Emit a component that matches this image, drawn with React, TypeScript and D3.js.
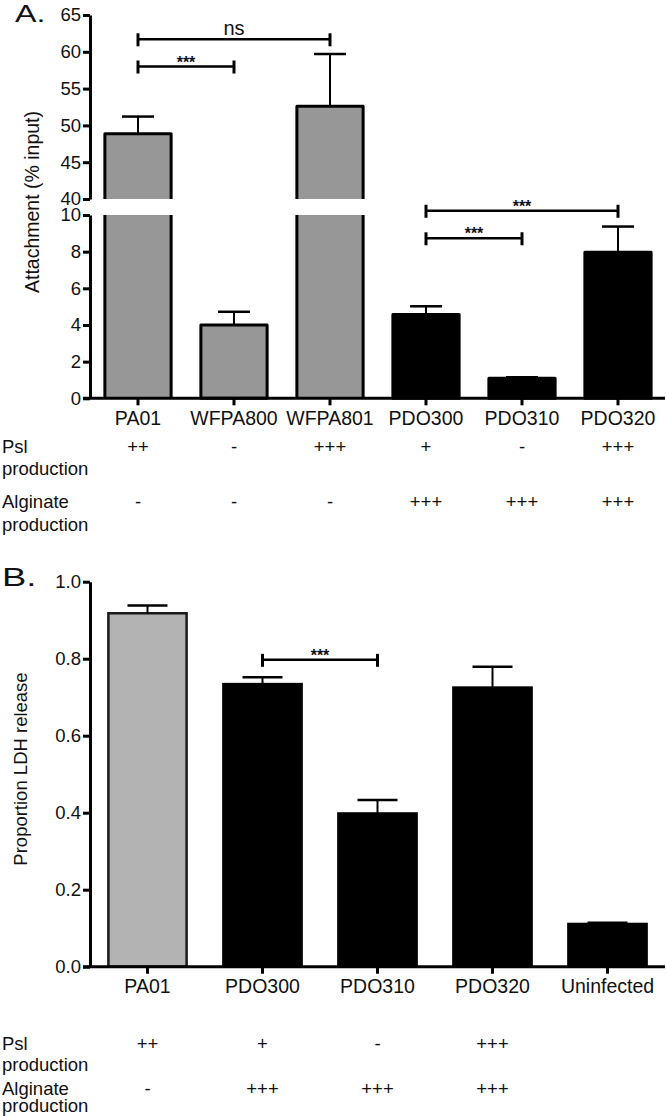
import React, { useEffect, useRef } from "react";
import * as d3 from "d3";

// ---------- Panel A data ----------
const topCategories = ["PA01", "WFPA800", "WFPA801", "PDO300", "PDO310", "PDO320"];
const topMeans = [48.85, 4.0, 52.6, 4.57, 1.1, 7.97];
const topErrors = [2.35, 0.72, 7.1, 0.45, 0.05, 1.4];
const topGroups = ["wt", "wt", "wt", "muc", "muc", "muc"];
const topPsl = ["++", "-", "+++", "+", "-", "+++"];
const topAlginate = ["-", "-", "-", "+++", "+++", "+++"];
const topLowTicks = [0, 2, 4, 6, 8, 10];
const topHighTicks = [40, 45, 50, 55, 60, 65];
const topBrackets = [
  { from: "PA01", to: "WFPA800", value: 58.0, label: "***" },
  { from: "PA01", to: "WFPA801", value: 61.7, label: "ns" },
  { from: "PDO300", to: "PDO310", value: 8.73, label: "***" },
  { from: "PDO300", to: "PDO320", value: 10.23, label: "***" },
];

// ---------- Panel B data ----------
const bottomCategories = ["PA01", "PDO300", "PDO310", "PDO320", "Uninfected"];
const bottomMeans = [0.918, 0.734, 0.398, 0.725, 0.111];
const bottomErrors = [0.02, 0.018, 0.035, 0.054, 0.003];
const bottomGroups = ["wt", "muc", "muc", "muc", "muc"];
const bottomPsl = ["++", "+", "-", "+++", ""];
const bottomAlginate = ["-", "+++", "+++", "+++", ""];
const bottomTicks = [0, 0.2, 0.4, 0.6, 0.8, 1.0];
const bottomBrackets = [{ from: "PDO300", to: "PDO310", value: 0.797, label: "***" }];

const FONT = "'Liberation Sans', Arial, Helvetica, sans-serif";

export default function App() {
  const topHighRef = useRef<SVGGElement>(null);
  const topLowRef = useRef<SVGGElement>(null);
  const botYRef = useRef<SVGGElement>(null);

  // scales
  const yLow = d3.scaleLinear().domain([0, 10]).range([398.3, 215]);
  const yHigh = d3.scaleLinear().domain([40, 65]).range([199, 15]);
  const yTop = (v: number) => (v >= 40 ? yHigh(v) : yLow(v));
  const xTop = d3
    .scaleBand<string>()
    .domain(topCategories)
    .range([90, 666])
    .paddingInner(0.31)
    .paddingOuter(0.155);

  const yBot = d3.scaleLinear().domain([0, 1]).range([966.7, 581.7]);
  const xBot = d3
    .scaleBand<string>()
    .domain(bottomCategories)
    .range([90, 665])
    .paddingInner(0.32)
    .paddingOuter(0.16);

  useEffect(() => {
    const style = (sel: any) => {
      sel.select(".domain").attr("stroke", "#000").attr("stroke-width", 3);
      sel.selectAll(".tick line").attr("stroke", "#000").attr("stroke-width", 3);
      sel
        .selectAll(".tick text")
        .attr("fill", "#111")
        .style("font-family", FONT)
        .style("font-size", "18.5px");
    };
    if (topHighRef.current) {
      const g = d3.select(topHighRef.current);
      g.call(d3.axisLeft(yHigh).tickValues(topHighTicks).tickSize(7).tickSizeOuter(0).tickPadding(2));
      style(g);
    }
    if (topLowRef.current) {
      const g = d3.select(topLowRef.current);
      g.call(d3.axisLeft(yLow).tickValues(topLowTicks).tickSize(7).tickSizeOuter(0).tickPadding(2));
      style(g);
    }
    if (botYRef.current) {
      const g = d3.select(botYRef.current);
      g.call(
        d3
          .axisLeft(yBot)
          .tickValues(bottomTicks)
          .tickFormat(d3.format(".1f") as any)
          .tickSize(7)
          .tickSizeOuter(0)
          .tickPadding(2)
      );
      style(g);
    }
  }, []);

  const bwT = xTop.bandwidth();
  const bwB = xBot.bandwidth();
  const cT = (c: string) => (xTop(c) as number) + bwT / 2;
  const cB = (c: string) => (xBot(c) as number) + bwB / 2;

  // ---- Top bars ----
  const topBars = topCategories.map((c, i) => {
    const x0 = xTop(c) as number;
    const x1 = x0 + bwT;
    const v = topMeans[i];
    const fill = topGroups[i] === "wt" ? "#979797" : "#000";
    if (v > 10) {
      const yl0 = yLow(0);
      const yl1 = yLow(10);
      const yh0 = yHigh(40);
      const yh1 = yHigh(v);
      return (
        <g key={c}>
          <rect x={x0} y={yl1} width={bwT} height={yl0 - yl1} fill={fill} />
          <path d={`M${x0},${yl0}V${yl1}M${x1},${yl1}V${yl0}`} stroke="#000" strokeWidth={3} fill="none" />
          <rect x={x0} y={yh1} width={bwT} height={yh0 - yh1} fill={fill} />
          <path d={`M${x0},${yh0}V${yh1}H${x1}V${yh0}`} stroke="#000" strokeWidth={3} fill="none" strokeLinejoin="round" />
        </g>
      );
    }
    const y = yLow(v);
    return (
      <rect
        key={c}
        x={x0}
        y={y}
        width={bwT}
        height={yLow(0) - y}
        fill={fill}
        stroke="#000"
        strokeWidth={3}
        strokeLinejoin="round"
      />
    );
  });

  const topErr = topCategories.map((c, i) => {
    const xc = cT(c);
    const ya = yTop(topMeans[i]);
    const yb = yTop(topMeans[i] + topErrors[i]);
    return (
      <g key={c} stroke="#000">
        <line x1={xc} x2={xc} y1={ya} y2={yb} strokeWidth={2} />
        <line x1={xc - 16} x2={xc + 16} y1={yb} y2={yb} strokeWidth={2.5} />
      </g>
    );
  });

  const bracket = (
    key: string,
    xa: number,
    xb: number,
    y: number,
    label: string
  ) => (
    <g key={key}>
      <line x1={xa} x2={xb} y1={y} y2={y} stroke="#000" strokeWidth={2.5} />
      <line x1={xa} x2={xa} y1={y - 6} y2={y + 7} stroke="#000" strokeWidth={3} />
      <line x1={xb} x2={xb} y1={y - 6} y2={y + 7} stroke="#000" strokeWidth={3} />
      {label === "ns" ? (
        <text x={(xa + xb) / 2} y={y - 4} textAnchor="middle" fontSize={20} fontFamily={FONT} fill="#111">
          ns
        </text>
      ) : (
        <text x={(xa + xb) / 2} y={y + 1} textAnchor="middle" fontSize={16} fontWeight="bold" fontFamily={FONT} fill="#111">
          {label}
        </text>
      )}
    </g>
  );

  // ---- Bottom bars ----
  const botBars = bottomCategories.map((c, i) => {
    const x0 = xBot(c) as number;
    const y = yBot(bottomMeans[i]);
    const wt = bottomGroups[i] === "wt";
    return (
      <rect
        key={c}
        x={x0}
        y={y}
        width={bwB}
        height={yBot(0) - y}
        fill={wt ? "#b3b3b3" : "#000"}
        stroke={wt ? "#1a1a1a" : "#000"}
        strokeWidth={2.5}
      />
    );
  });

  const botErr = bottomCategories.map((c, i) => {
    const xc = cB(c);
    const ya = yBot(bottomMeans[i]);
    const yb = yBot(bottomMeans[i] + bottomErrors[i]);
    return (
      <g key={c} stroke="#000">
        <line x1={xc} x2={xc} y1={ya} y2={yb} strokeWidth={2} />
        <line x1={xc - 20} x2={xc + 20} y1={yb} y2={yb} strokeWidth={2.5} />
      </g>
    );
  });

  const textProps = { fontFamily: FONT, fill: "#111" };

  return (
    <svg
      width={666}
      height={1116}
      style={{ position: "absolute", left: 0, top: 0, background: "#fff" }}
    >
      <rect x={0} y={0} width={666} height={1116} fill="#fff" />

      {/* ============ Panel A ============ */}
      <text transform="translate(15,22) scale(1.4,1)" fontSize={23} {...textProps}>
        A.
      </text>
      <text
        transform="translate(39,202) rotate(-90)"
        textAnchor="middle"
        fontSize={19.5}
        {...textProps}
      >
        Attachment (% input)
      </text>

      {topBars}
      {topErr}

      <g ref={topHighRef} transform="translate(90,0)" />
      <g ref={topLowRef} transform="translate(90,0)" />

      {/* x axis */}
      <line x1={83} x2={665} y1={yLow(0)} y2={yLow(0)} stroke="#000" strokeWidth={3} />
      {topCategories.map((c) => (
        <line key={c} x1={cT(c)} x2={cT(c)} y1={yLow(0)} y2={yLow(0) + 7} stroke="#000" strokeWidth={3} />
      ))}
      {topCategories.map((c) => (
        <text key={c} x={cT(c)} y={425} textAnchor="middle" fontSize={19.5} {...textProps}>
          {c}
        </text>
      ))}

      {topBrackets.map((b, i) =>
        bracket("tb" + i, cT(b.from), cT(b.to), yTop(b.value), b.label)
      )}

      <text x={2} y={453} fontSize={18.5} {...textProps}>Psl</text>
      <text x={2} y={475} fontSize={18.5} {...textProps}>production</text>
      <text x={2} y={508} fontSize={18.5} {...textProps}>Alginate</text>
      <text x={2} y={531} fontSize={18.5} {...textProps}>production</text>
      {topCategories.map((c, i) => (
        <text key={"p" + c} x={cT(c)} y={453} textAnchor="middle" fontSize={18.5} {...textProps}>
          {topPsl[i]}
        </text>
      ))}
      {topCategories.map((c, i) => (
        <text key={"a" + c} x={cT(c)} y={508} textAnchor="middle" fontSize={18.5} {...textProps}>
          {topAlginate[i]}
        </text>
      ))}

      {/* ============ Panel B ============ */}
      <text transform="translate(2,586) scale(1.4,1)" fontSize={26} {...textProps}>
        B.
      </text>
      <text
        transform="translate(27,769) rotate(-90)"
        textAnchor="middle"
        fontSize={18.5}
        {...textProps}
      >
        Proportion LDH release
      </text>

      {botBars}
      {botErr}

      <g ref={botYRef} transform="translate(90,0)" />
      <line x1={83} x2={665} y1={yBot(0)} y2={yBot(0)} stroke="#000" strokeWidth={3} />
      {bottomCategories.map((c) => (
        <line key={c} x1={cB(c)} x2={cB(c)} y1={yBot(0)} y2={yBot(0) + 7} stroke="#000" strokeWidth={3} />
      ))}
      {bottomCategories.map((c) => (
        <text key={c} x={cB(c)} y={993} textAnchor="middle" fontSize={19.5} {...textProps}>
          {c}
        </text>
      ))}

      {bottomBrackets.map((b, i) =>
        bracket("bb" + i, cB(b.from), cB(b.to), yBot(b.value), b.label)
      )}

      <text x={2} y={1050} fontSize={18.5} {...textProps}>Psl</text>
      <text x={2} y={1071} fontSize={18.5} {...textProps}>production</text>
      <text x={2} y={1095} fontSize={18.5} {...textProps}>Alginate</text>
      <text x={2} y={1112} fontSize={18.5} {...textProps}>production</text>
      {bottomCategories.map((c, i) => (
        <text key={"bp" + c} x={cB(c)} y={1050} textAnchor="middle" fontSize={18.5} {...textProps}>
          {bottomPsl[i]}
        </text>
      ))}
      {bottomCategories.map((c, i) => (
        <text key={"ba" + c} x={cB(c)} y={1095} textAnchor="middle" fontSize={18.5} {...textProps}>
          {bottomAlginate[i]}
        </text>
      ))}
    </svg>
  );
}
